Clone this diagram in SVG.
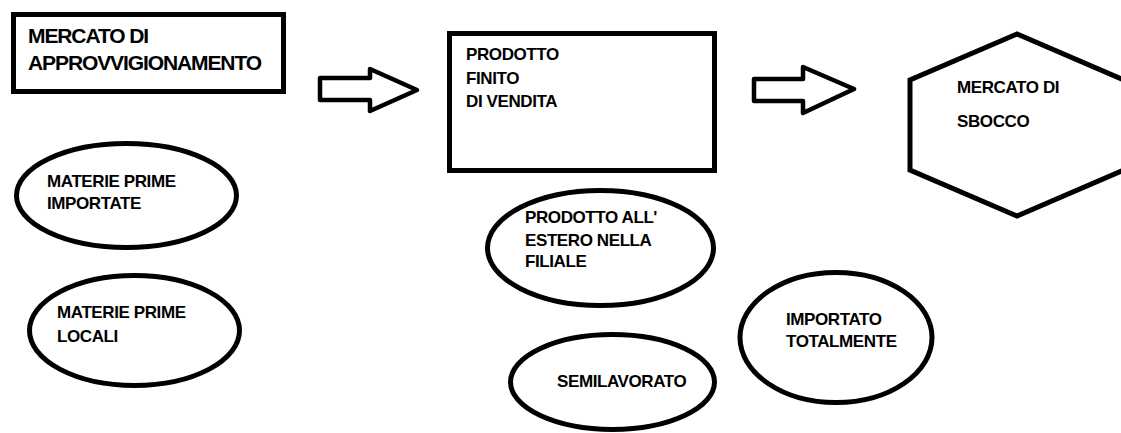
<svg xmlns="http://www.w3.org/2000/svg" width="1121" height="433" viewBox="0 0 1121 433">
<style>
.s{fill:#fff;stroke:#000;stroke-width:5;stroke-linejoin:miter}
.a{fill:#fff;stroke:#000;stroke-width:4.5;stroke-linejoin:round}
text{font-family:"Liberation Sans",Arial,sans-serif;font-weight:bold;fill:#000;font-size:17px;letter-spacing:-0.4px}
.big{font-size:21px;letter-spacing:-1.1px}
</style>
<rect width="1121" height="433" fill="#fff"/>
<g id="connectors">
<path class="a" d="M320,78 L370,78 L370,69 L417,90 L370,111 L370,100 L320,100 Z"/>
<path class="a" d="M754,79 L803,79 L803,67 L854,89 L803,113 L803,101 L754,101 Z"/>
</g>
<g id="mercato-approvvigionamento">
<rect class="s" x="13.5" y="14.5" width="270" height="77"/>
<text class="big" x="28" y="43">MERCATO DI</text>
<text class="big" x="28" y="70">APPROVVIGIONAMENTO</text>
</g>
<g id="prodotto-finito">
<rect class="s" x="449.5" y="33.5" width="265" height="137"/>
<text x="466" y="60">PRODOTTO</text>
<text x="466" y="84">FINITO</text>
<text x="466" y="107">DI VENDITA</text>
</g>
<g id="mercato-sbocco">
<polygon class="s" points="1017,34 910,80 910,170 1017,216 1124,170 1124,80"/>
<text x="957" y="93">MERCATO DI</text>
<text x="957" y="127">SBOCCO</text>
</g>
<g id="materie-importate">
<ellipse class="s" cx="126.5" cy="195.5" rx="110" ry="52"/>
<text x="47" y="187">MATERIE PRIME</text>
<text x="47" y="209">IMPORTATE</text>
</g>
<g id="materie-locali">
<ellipse class="s" cx="134.5" cy="330.5" rx="105" ry="55"/>
<text x="57" y="318">MATERIE PRIME</text>
<text x="57" y="342">LOCALI</text>
</g>
<g id="prodotto-estero">
<ellipse class="s" cx="600.5" cy="248" rx="113" ry="57.5"/>
<text x="525" y="223">PRODOTTO ALL'</text>
<text x="525" y="246">ESTERO NELLA</text>
<text x="525" y="267">FILIALE</text>
</g>
<g id="semilavorato">
<ellipse class="s" cx="612.5" cy="382" rx="102" ry="47.5"/>
<text x="557" y="387">SEMILAVORATO</text>
</g>
<g id="importato-totalmente">
<ellipse class="s" cx="836" cy="337.5" rx="96" ry="65"/>
<text x="786" y="325">IMPORTATO</text>
<text x="786" y="347">TOTALMENTE</text>
</g>
</svg>
